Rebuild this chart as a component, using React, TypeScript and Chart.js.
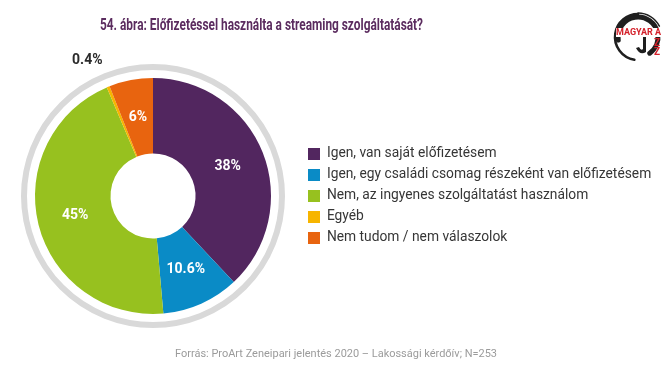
import React, { useEffect, useRef } from "react";
import { Chart, registerables } from "chart.js";

Chart.register(...registerables);

const categories = [
  "Igen, van saját előfizetésem",
  "Igen, egy családi csomag részeként van előfizetésem",
  "Nem, az ingyenes szolgáltatást használom",
  "Egyéb",
  "Nem tudom / nem válaszolok",
];
const values = [38, 10.6, 45, 0.4, 6];
const valueLabels = ["38%", "10.6%", "45%", "0.4%", "6%"];
const colors = ["#52265f", "#0a8bc6", "#97c11f", "#f7b500", "#e8640f"];
const titleText = "54. ábra: Előfizetéssel használta a streaming szolgáltatását?";
const sourceText = "Forrás: ProArt Zeneipari jelentés 2020 – Lakossági kérdőív; N=253";

const W = 670;
const H = 384;
const CX = 154;
const LEGEND_BOX_X = 310;
const LEGEND_FONT = "Roboto";
const LEGEND_SIZE = 13.8;
const LEGEND_PAD = 7.2;
const BOX = 12;

function measure(text: string, font: string) {
  const c = document.createElement("canvas");
  const ctx = c.getContext("2d")!;
  ctx.font = font;
  return ctx.measureText(text).width;
}

const decorPlugin = {
  id: "decor",
  beforeDatasetsDraw(chart: any) {
    const arc = chart.getDatasetMeta(0).data[0];
    if (!arc) return;
    const { x, y, outerRadius } = arc.getProps(["x", "y", "outerRadius"], true);
    const ctx = chart.ctx;
    ctx.save();
    ctx.beginPath();
    ctx.arc(x, y, outerRadius + 11, 0, Math.PI * 2);
    ctx.lineWidth = 6;
    ctx.strokeStyle = "#d9d9d9";
    ctx.stroke();
    ctx.restore();
  },
  afterDatasetsDraw(chart: any) {
    const ctx = chart.ctx;
    const meta = chart.getDatasetMeta(0);
    ctx.save();
    ctx.textAlign = "center";
    ctx.textBaseline = "middle";
    meta.data.forEach((el: any, i: number) => {
      const p = el.getProps(["x", "y", "startAngle", "endAngle", "outerRadius"], true);
      if (i === 3) {
        const mid = (p.startAngle + p.endAngle) / 2;
        const r = p.outerRadius + 28;
        const tx = p.x + Math.cos(mid) * r + 5;
        const ty = p.y + Math.sin(mid) * r;
        ctx.font = "bold 14px Roboto";
        ctx.fillStyle = "#2b2b2b";
        ctx.textAlign = "right";
        ctx.fillText(valueLabels[i], tx, ty);
        ctx.textAlign = "center";
      } else {
        const pos = el.tooltipPosition();
        ctx.font = "bold 14px Roboto";
        ctx.fillStyle = "#ffffff";
        ctx.fillText(valueLabels[i], pos.x, pos.y);
      }
    });
    ctx.restore();
  },
  afterDraw(chart: any) {
    const ctx = chart.ctx;
    ctx.save();
    // title
    ctx.font = "bold 16px 'Liberation Sans Narrow', Roboto";
    ctx.fillStyle = "#5b2c5f";
    ctx.textAlign = "left";
    ctx.textBaseline = "middle";
    ctx.fillText(titleText, 100, 26, 323);
    // source
    ctx.font = "11.5px Roboto";
    ctx.fillStyle = "#9b9b9b";
    ctx.fillText(sourceText, 175, 354, 322);
    // logo
    const lx = 638, ly = 37;
    ctx.strokeStyle = "#1f1f1f";
    ctx.lineCap = "round";
    ctx.lineWidth = 5;
    ctx.beginPath();
    ctx.arc(lx, ly, 20, Math.PI * 0.95, Math.PI * 2.3, false);
    ctx.stroke();
    ctx.lineWidth = 2.5;
    ctx.beginPath();
    ctx.arc(lx, ly, 23, Math.PI * 0.55, Math.PI * 1.5, false);
    ctx.stroke();
    ctx.lineWidth = 1.5;
    ctx.beginPath();
    ctx.arc(lx, ly, 24, Math.PI * 1.5, Math.PI * 1.85, false);
    ctx.stroke();
    ctx.fillStyle = "#1f1f1f";
    ctx.beginPath();
    ctx.moveTo(643, 36);
    ctx.lineTo(646, 36);
    ctx.lineTo(646, 52);
    ctx.quadraticCurveTo(640, 56, 636, 48);
    ctx.lineTo(639, 47);
    ctx.quadraticCurveTo(641, 51, 643, 49);
    ctx.closePath();
    ctx.fill();
    ctx.fillStyle = "#ffffff";
    ctx.fillRect(616, 28, 47, 9);
    ctx.fillStyle = "#d4202a";
    ctx.font = "bold 9px 'Liberation Sans Narrow', Roboto";
    ctx.textAlign = "left";
    ctx.fillText("MAGYAR A", 616, 32.5, 46);
    ctx.font = "bold 10px 'Liberation Sans Narrow', Roboto";
    ctx.fillText("Z", 654, 43);
    ctx.fillText("Z", 654, 52);
    ctx.restore();
  },
};

export default function App() {
  const ref = useRef<HTMLCanvasElement | null>(null);
  useEffect(() => {
    if (!ref.current) return;
    const font = `${LEGEND_SIZE}px ${LEGEND_FONT}`;
    const tw = Math.max(...categories.map((c) => measure(c, font)));
    const legendWidth = LEGEND_PAD + BOX + LEGEND_SIZE / 2 + tw;
    const legendLeft = LEGEND_BOX_X - LEGEND_PAD;
    const padRight = Math.max(0, W - legendLeft - legendWidth);
    const padLeft = 2 * CX - legendLeft;
    const chart = new Chart(ref.current, {
      type: "doughnut",
      data: {
        labels: categories,
        datasets: [
          {
            data: values,
            backgroundColor: colors,
            borderWidth: 0,
          },
        ],
      },
      options: {
        responsive: false,
        animation: false,
        radius: 118,
        cutout: 49,
        layout: {
          padding: { left: padLeft, right: padRight, top: 60, bottom: 52 },
        },
        plugins: {
          title: { display: false },
          tooltip: { enabled: false },
          legend: {
            position: "right",
            align: "center",
            maxWidth: legendWidth + 2,
            labels: {
              boxWidth: BOX,
              boxHeight: BOX,
              padding: LEGEND_PAD,
              color: "#363636",
              font: { family: LEGEND_FONT, size: LEGEND_SIZE },
            },
          },
        },
      } as any,
      plugins: [decorPlugin],
    });
    return () => chart.destroy();
  }, []);
  return (
    <div style={{ position: "absolute", left: 0, top: 0, width: W, height: H, background: "#fff" }}>
      <canvas ref={ref} width={W} height={H} />
    </div>
  );
}
